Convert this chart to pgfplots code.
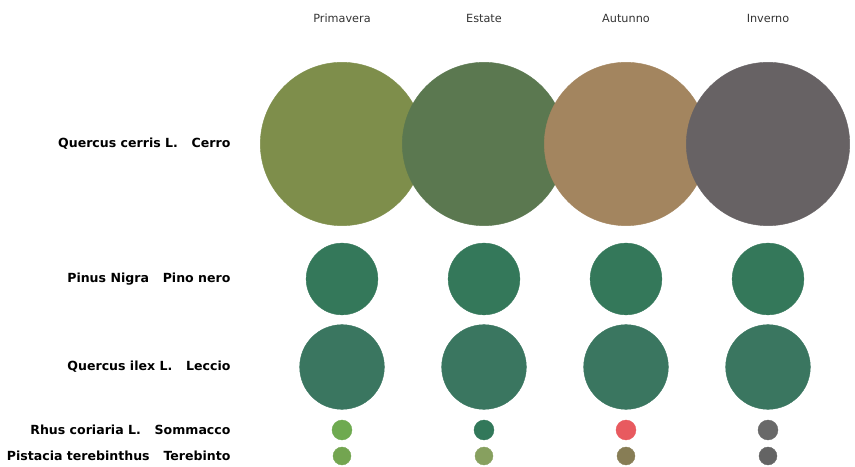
\documentclass[border=0pt]{standalone}
\usepackage{pgfplots}
\pgfplotsset{compat=1.18}
\usepackage{pgfplotstable}
\usepackage{fontspec}
\setmainfont{DejaVu Sans}
\definecolor{qP}{HTML}{7E8E4B}
\definecolor{qE}{HTML}{5B7850}
\definecolor{qA}{HTML}{A3855F}
\definecolor{qI}{HTML}{676264}
\definecolor{pn}{HTML}{34785A}
\definecolor{ql}{HTML}{3A7660}
\definecolor{rP}{HTML}{6EAA50}
\definecolor{rE}{HTML}{32785A}
\definecolor{rA}{HTML}{E85A5F}
\definecolor{rI}{HTML}{696969}
\definecolor{tP}{HTML}{73A550}
\definecolor{tE}{HTML}{87A05F}
\definecolor{tA}{HTML}{877D55}
\definecolor{tI}{HTML}{646464}
\pgfplotstableread{
x y r c
0 323 82 qP
1 323 82 qE
2 323 82 qA
3 323 82 qI
0 188 36 pn
1 188 36 pn
2 188 36 pn
3 188 36 pn
0 100 42.5 ql
1 100 42.5 ql
2 100 42.5 ql
3 100 42.5 ql
0 37 10 rP
1 37 10 rE
2 37 10 rA
3 37 10 rI
0 11 9 tP
1 11 9 tE
2 11 9 tA
3 11 9 tI
}\data
\begin{document}
\begin{tikzpicture}
\begin{axis}[
  scale only axis, width=855bp, height=467bp,
  xmin=-2.4085, xmax=3.6127, ymin=0, ymax=467,
  axis line style={draw=none}, tick style={draw=none},
  xtick={0,1,2,3}, xticklabels={Primavera,Estate,Autunno,Inverno},
  xticklabel pos=right,
  xticklabel style={anchor=center, yshift=-18bp, font=\fontsize{11.3}{13}\selectfont, text=black!80},
  ytick={323,188,100,37,11},
  yticklabels={{Quercus cerris L.\hspace{1.1em}Cerro},{Pinus Nigra\hspace{1.1em}Pino nero},{Quercus ilex L.\hspace{1.1em}Leccio},{Rhus coriaria L.\hspace{1.1em}Sommacco},{Pistacia terebinthus\hspace{1.1em}Terebinto}},
  yticklabel style={anchor=east, xshift=234bp, font=\fontsize{12.6}{14}\selectfont\bfseries, text=black},
  clip=false,
]
\addplot[scatter, only marks, mark=*,
  point meta=explicit symbolic,
  scatter/classes={
    qP={draw=qP,fill=qP}, qE={draw=qE,fill=qE}, qA={draw=qA,fill=qA}, qI={draw=qI,fill=qI},
    pn={draw=pn,fill=pn}, ql={draw=ql,fill=ql},
    rP={draw=rP,fill=rP}, rE={draw=rE,fill=rE}, rA={draw=rA,fill=rA}, rI={draw=rI,fill=rI},
    tP={draw=tP,fill=tP}, tE={draw=tE,fill=tE}, tA={draw=tA,fill=tA}, tI={draw=tI,fill=tI}},
  visualization depends on={\thisrow{r} \as \rad},
  scatter/@pre marker code/.append style={/tikz/mark size=\rad},
] table[x=x, y=y, meta=c] {\data};
\end{axis}
\end{tikzpicture}
\end{document}
